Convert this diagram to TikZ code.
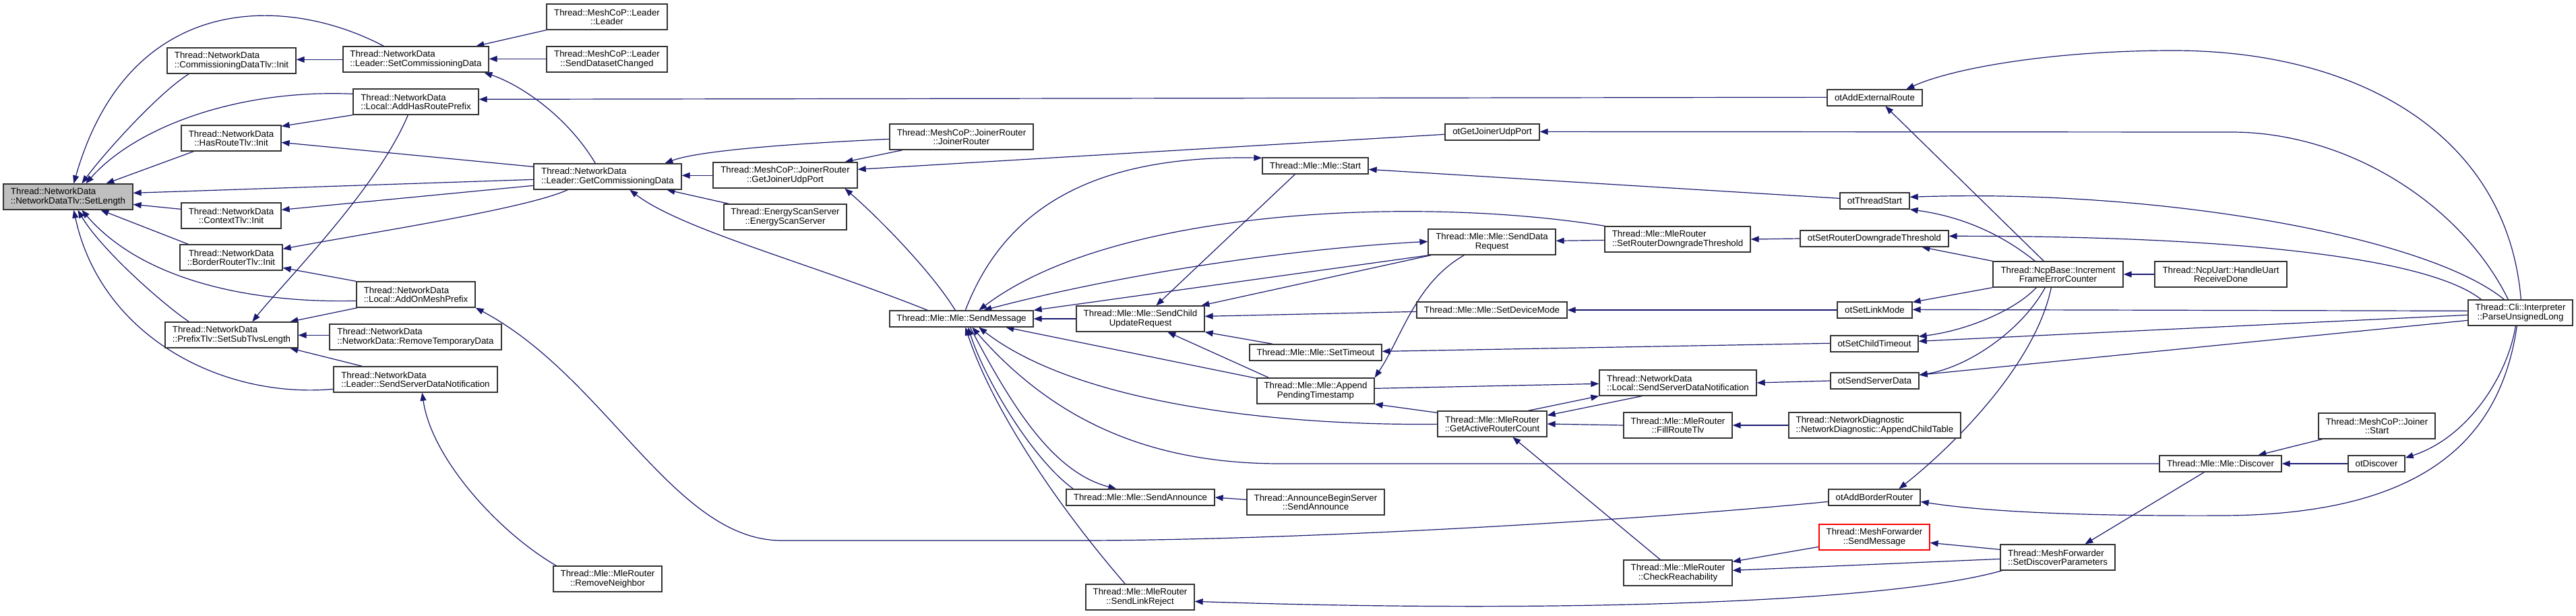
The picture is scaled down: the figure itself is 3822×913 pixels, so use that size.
\documentclass[tikz,border=0pt]{standalone}
\usepackage{fontspec}
\setmainfont{Liberation Sans}
\usetikzlibrary{arrows.meta}
\definecolor{edgecol}{HTML}{191970}
\pgfdeclarelayer{background}
\pgfsetlayers{background,main}
\begin{document}
\begin{tikzpicture}[x=1pt,y=-1pt,
 box/.style={draw=black!80, line width=1.3pt, fill=white, inner sep=0pt, font=\fontsize{13.3pt}{13.5pt}\selectfont, text=black},
 two/.style={minimum height=38pt},
 one/.style={minimum height=24pt},
 conn/.style={draw=edgecol, line width=1.2pt, -{Triangle[length=12pt,width=9pt]}},
 conn2/.style={draw=edgecol, line width=1.2pt, {Triangle[length=12pt,width=9pt]}-{Triangle[length=12pt,width=9pt]}}]
\useasboundingbox (0,0) rectangle (3822,913);
% nodes
\node[box,two,minimum width=192pt,align=left,fill=black!25] (setlen) at (101,292) {Thread::NetworkData\\::NetworkDataTlv::SetLength};
\node[box,two,minimum width=191pt,align=left] (cdtinit) at (343.5,90) {Thread::NetworkData\\::CommissioningDataTlv::Init};
\node[box,two,minimum width=216pt,align=left] (setcd) at (617,88) {Thread::NetworkData\\::Leader::SetCommissioningData};
\node[box,two,minimum width=186pt,align=left] (addhrp) at (617,151) {Thread::NetworkData\\::Local::AddHasRoutePrefix};
\node[box,two,minimum width=148pt,align=center] (hrtinit) at (343,205) {Thread::NetworkData\\::HasRouteTlv::Init};
\node[box,two,minimum width=148pt,align=center] (ctxinit) at (343,320) {Thread::NetworkData\\::ContextTlv::Init};
\node[box,two,minimum width=152pt,align=center] (brtinit) at (343,382) {Thread::NetworkData\\::BorderRouterTlv::Init};
\node[box,two,minimum width=176pt,align=left] (addomp) at (617,437) {Thread::NetworkData\\::Local::AddOnMeshPrefix};
\node[box,two,minimum width=197pt,align=left] (prefix) at (343.5,497) {Thread::NetworkData\\::PrefixTlv::SetSubTlvsLength};
\node[box,two,minimum width=255pt,align=left] (remtmp) at (616.5,500) {Thread::NetworkData\\::NetworkData::RemoveTemporaryData};
\node[box,two,minimum width=243pt,align=left] (lssdn) at (616.5,563) {Thread::NetworkData\\::Leader::SendServerDataNotification};
\node[box,two,minimum width=179pt,align=center] (mcleader) at (900.5,25) {Thread::MeshCoP::Leader\\::Leader};
\node[box,two,minimum width=179pt,align=center] (sdc) at (900.5,88) {Thread::MeshCoP::Leader\\::SendDatasetChanged};
\node[box,two,minimum width=219pt,align=left] (getcd) at (901.5,262) {Thread::NetworkData\\::Leader::GetCommissioningData};
\node[box,two,minimum width=214pt,align=center] (gjup) at (1165,260) {Thread::MeshCoP::JoinerRouter\\::GetJoinerUdpPort};
\node[box,two,minimum width=213pt,align=center] (jr) at (1426.5,203) {Thread::MeshCoP::JoinerRouter\\::JoinerRouter};
\node[box,two,minimum width=182pt,align=center] (ess) at (1165,322) {Thread::EnergyScanServer\\::EnergyScanServer};
\node[box,one,minimum width=213pt] (sendmsg) at (1426.5,473) {Thread::Mle::Mle::SendMessage};
\node[box,two,minimum width=161pt,align=center] (remnb) at (901.5,859) {Thread::Mle::MleRouter\\::RemoveNeighbor};
\node[box,one,minimum width=140pt] (otgjup) at (2214,196) {otGetJoinerUdpPort};
\node[box,one,minimum width=157pt] (start) at (1951.5,246) {Thread::Mle::Mle::Start};
\node[box,two,minimum width=189pt,align=center] (sdr) at (2213.5,359) {Thread::Mle::Mle::SendData\\Request};
\node[box,two,minimum width=216pt,align=left] (srdt) at (2489,355) {Thread::Mle::MleRouter\\::SetRouterDowngradeThreshold};
\node[box,one,minimum width=223pt] (setdm) at (2213.5,460) {Thread::Mle::Mle::SetDeviceMode};
\node[box,two,minimum width=190pt,align=center] (scur) at (1692,473) {Thread::Mle::Mle::SendChild\\UpdateRequest};
\node[box,one,minimum width=196pt] (settimeout) at (1952,523) {Thread::Mle::Mle::SetTimeout};
\node[box,two,minimum width=174pt,align=center] (apt) at (1952,580) {Thread::Mle::Mle::Append\\PendingTimestamp};
\node[box,two,minimum width=162pt,align=center] (garc) at (2214,629) {Thread::Mle::MleRouter\\::GetActiveRouterCount};
\node[box,one,minimum width=220pt] (sendann) at (1692,738) {Thread::Mle::Mle::SendAnnounce};
\node[box,two,minimum width=204pt,align=center] (abs) at (1952,745) {Thread::AnnounceBeginServer\\::SendAnnounce};
\node[box,two,minimum width=161pt,align=center] (slr) at (1691.5,886) {Thread::Mle::MleRouter\\::SendLinkReject};
\node[box,one,minimum width=141pt] (otaer) at (2781.5,145) {otAddExternalRoute};
\node[box,one,minimum width=103pt] (otts) at (2781.5,298) {otThreadStart};
\node[box,one,minimum width=220pt] (otsrdt) at (2781,354) {otSetRouterDowngradeThreshold};
\node[box,two,minimum width=193pt,align=center] (ifec) at (3053.5,407) {Thread::NcpBase::Increment\\FrameErrorCounter};
\node[box,one,minimum width=111pt] (otslm) at (2781.5,460) {otSetLinkMode};
\node[box,one,minimum width=130pt] (otsct) at (2781,510) {otSetChildTimeout};
\node[box,one,minimum width=131pt] (otssd) at (2781.5,565) {otSendServerData};
\node[box,two,minimum width=233pt,align=left] (locssdn) at (2489.5,568) {Thread::NetworkData\\::Local::SendServerDataNotification};
\node[box,two,minimum width=161pt,align=center] (frt) at (2489.5,631) {Thread::Mle::MleRouter\\::FillRouteTlv};
\node[box,two,minimum width=255pt,align=left] (act) at (2781.5,631) {Thread::NetworkDiagnostic\\::NetworkDiagnostic::AppendChildTable};
\node[box,one,minimum width=136pt] (otabr) at (2781,738) {otAddBorderRouter};
\node[box,two,minimum width=164pt,align=center,draw=red] (mfsm) at (2781,797) {Thread::MeshForwarder\\::SendMessage};
\node[box,two,minimum width=170pt,align=left] (sdp) at (3053,827) {Thread::MeshForwarder\\::SetDiscoverParameters};
\node[box,two,minimum width=161pt,align=center] (cr) at (2489.5,850) {Thread::Mle::MleRouter\\::CheckReachability};
\node[box,two,minimum width=196pt,align=center] (hurd) at (3295,407) {Thread::NcpUart::HandleUart\\ReceiveDone};
\node[box,two,minimum width=155pt,align=center] (interp) at (3739.5,464) {Thread::Cli::Interpreter\\::ParseUnsignedLong};
\node[box,two,minimum width=173pt,align=center] (jstart) at (3526.5,632) {Thread::MeshCoP::Joiner\\::Start};
\node[box,one,minimum width=181pt] (discover) at (3294.5,688) {Thread::Mle::Mle::Discover};
\node[box,one,minimum width=84pt] (otdisc) at (3526,688) {otDiscover};
% edges
\begin{pgfonlayer}{background}
\fill[white] (0,0) rectangle (3822,913);
\draw[conn] ([xshift=61pt]setcd.north west) .. controls (420,-10) and (190,-10) .. ([xshift=105pt]setlen.north west);
\draw[conn] ([xshift=33pt]cdtinit.south west) .. controls (235,138) and (155,227) .. ([xshift=117pt]setlen.north west);
\draw[conn] ([yshift=-8pt]addhrp.north west) .. controls (350,132) and (200,190) .. ([xshift=123pt]setlen.north west);
\draw[conn] ([xshift=19pt]hrtinit.south west) -- ([xshift=153pt]setlen.north west);
\draw[conn] ([yshift=-24pt]getcd.north west) -- ([yshift=-14pt]setlen.north east);
\draw[conn] ([yshift=-10pt]ctxinit.north west) -- ([yshift=-31pt]setlen.north east);
\draw[conn] ([xshift=13pt]brtinit.north west) -- ([xshift=145pt]setlen.south west);
\draw[conn] ([yshift=-29pt]addomp.north west) .. controls (380,450) and (214,419) .. ([xshift=117pt]setlen.south west);
\draw[conn] ([xshift=36pt]prefix.north west) .. controls (240,450) and (150,370) .. ([xshift=111pt]setlen.south west);
\draw[conn] ([yshift=-34pt]lssdn.north west) .. controls (330,592) and (150,500) .. ([xshift=105pt]setlen.south west);
\draw[conn] ([yshift=-20pt]setcd.north west) -- ([yshift=-18pt]cdtinit.north east);
\draw[conn] (mcleader.south west) -- ([xshift=198pt]setcd.north west);
\draw[conn] ([yshift=-19pt]sdc.north west) -- ([yshift=-19pt]setcd.north east);
\draw[conn] ([xshift=92pt]getcd.north west) .. controls (840,170) and (770,125) .. ([xshift=210pt]setcd.south west);
\draw[conn] ([yshift=-12pt]otaer.north west) -- ([yshift=-16pt]addhrp.north east);
\draw[conn] (addhrp.south west) -- ([yshift=-2pt]hrtinit.north east);
\draw[conn] ([yshift=-5pt]getcd.north west) -- ([yshift=-26pt]hrtinit.north east);
\draw[conn] ([yshift=-33pt]getcd.north west) -- ([yshift=-11pt]ctxinit.north east);
\draw[conn] ([xshift=51pt]getcd.south west) .. controls (780,310) and (550,345) .. ([yshift=-7pt]brtinit.north east);
\draw[conn] (addomp.north west) -- ([yshift=-35pt]brtinit.north east);
\draw[conn] ([xshift=82pt]addhrp.south west) .. controls (560,280) and (420,420) .. ([xshift=130pt]prefix.north west);
\draw[conn] ([xshift=2pt]addomp.south west) -- ([xshift=186pt]prefix.north west);
\draw[conn] ([yshift=-17pt]remtmp.north west) -- ([yshift=-20pt]prefix.north east);
\draw[conn] ([xshift=43pt]lssdn.north west) -- ([xshift=186pt]prefix.south west);
\draw[conn] ([yshift=-19pt]otabr.north west) .. controls (2400,775) and (1900,802) .. (1600,802) -- (1160,802) .. controls (1000,802) and (900,560) .. (addomp.south east);
\draw[conn] ([xshift=5pt]remnb.north west) .. controls (740,790) and (640,680) .. ([xshift=132pt]lssdn.south west);
\draw[conn] ([yshift=-23pt]jr.north west) .. controls (1200,212) and (1040,222) .. ([xshift=195pt]getcd.north west);
\draw[conn] ([yshift=-20pt]gjup.north west) -- ([yshift=-18pt]getcd.north east);
\draw[conn] ([xshift=8pt]ess.north west) -- ([xshift=198pt]getcd.south west);
\draw[conn] ([xshift=57pt]sendmsg.north west) .. controls (1200,390) and (1010,340) .. ([xshift=143pt]getcd.south west);
\draw[conn] ([xshift=20pt]jr.south west) -- ([xshift=196pt]gjup.north west);
\draw[conn] ([yshift=-16pt]otgjup.north west) -- ([yshift=-11pt]gjup.north east);
\draw[conn] ([xshift=98pt]sendmsg.north west) .. controls (1380,400) and (1300,320) .. ([xshift=196pt]gjup.south west);
\draw[conn] ([xshift=1pt]srdt.north west) .. controls (2100,290) and (1650,310) .. ([xshift=133pt]sendmsg.north west);
\draw[conn] ([xshift=2pt]sdr.south west) -- (sendmsg.north east);
\draw[conn2] ([xshift=140pt]sendmsg.north west) .. controls (1650,410) and (1900,370) .. ([yshift=-19pt]sdr.north west);
\draw[conn] (scur.west) -- (sendmsg.east);
\draw[conn] ([yshift=-1pt]apt.north west) -- ([xshift=173pt]sendmsg.south west);
\draw[conn] ([yshift=-20pt]garc.north west) .. controls (1900,632) and (1600,600) .. ([xshift=133pt]sendmsg.south west);
\draw[conn] (discover.west) -- (1900,688) .. controls (1700,688) and (1560,620) .. ([xshift=123pt]sendmsg.south west);
\draw[conn] ([xshift=11pt]sendann.north west) .. controls (1530,680) and (1460,560) .. ([xshift=117pt]sendmsg.south west);
\draw[conn] ([xshift=120pt]sendmsg.south west) .. controls (1500,600) and (1560,700) .. ([xshift=75pt]sendann.north west);
\draw[conn] ([xshift=59pt]slr.north west) .. controls (1560,740) and (1470,600) .. ([xshift=113pt]sendmsg.south west);
\draw[conn] ([xshift=113pt]sendmsg.north west) .. controls (1490,310) and (1620,230) .. ([yshift=-1pt]start.north west);
\draw[conn] ([xshift=49pt]start.south west) -- ([xshift=119pt]scur.north west);
\draw[conn] ([xshift=5pt]sdr.south west) -- ([xshift=186pt]scur.north west);
\draw[conn] ([yshift=-15pt]setdm.north west) -- ([yshift=-16pt]scur.north east);
\draw[conn] ([xshift=35pt]settimeout.north west) -- (scur.south east);
\draw[conn] ([xshift=18pt]apt.north west) -- ([xshift=136pt]scur.south west);
\draw[conn] ([yshift=-9pt]otts.north west) -- ([yshift=-18pt]start.north east);
\draw[conn] ([yshift=-21pt]srdt.north west) -- ([yshift=-18pt]sdr.north east);
\draw[conn] ([xshift=54pt]sdr.south west) .. controls (2100,420) and (2080,500) .. (apt.north east);
\draw[conn] ([yshift=-3pt]garc.north west) -- (apt.south east);
\draw[conn] ([yshift=-12pt]otsct.north west) -- ([yshift=-11pt]settimeout.north east);
\draw[conn] (otslm.west) -- (setdm.east);
\draw[conn] (otsrdt.west) -- (srdt.east);
\draw[conn] ([xshift=64pt]locssdn.south west) -- ([yshift=-7pt]garc.north east);
\draw[conn] (frt.west) -- (garc.east);
\draw[conn] ([xshift=55pt]cr.north west) -- ([xshift=112pt]garc.south west);
\draw[conn] ([xshift=135pt]garc.north west) -- (locssdn.south west);
\draw[conn] ([yshift=-16pt]apt.north east) -- ([yshift=-21pt]locssdn.north west);
\draw[conn] (otssd.west) -- (locssdn.east);
\draw[conn] (act.west) -- (frt.east);
\draw[conn] ([yshift=-16pt]abs.north west) -- (sendann.east);
\draw[conn] ([xshift=3pt]sdp.south west) .. controls (2800,895) and (2300,910) .. ([yshift=-26pt]slr.north east);
\draw[conn] ([yshift=-8pt]sdp.north west) -- ([yshift=-28pt]mfsm.north east);
\draw[conn] ([yshift=-22pt]sdp.north west) -- ([yshift=-16pt]cr.north east);
\draw[conn] ([yshift=-34pt]mfsm.north west) -- ([yshift=-3pt]cr.north east);
\draw[conn] ([xshift=67pt]discover.south west) -- ([xshift=126pt]sdp.north west);
\draw[conn] ([xshift=6pt]jstart.south west) -- ([xshift=147pt]discover.north west);
\draw[conn] (otdisc.west) -- (discover.east);
\draw[conn] ([xshift=71pt]interp.south west) .. controls (3720,560) and (3660,650) .. ([yshift=-4pt]otdisc.north east);
\draw[conn] ([xshift=73pt]interp.south west) .. controls (3710,650) and (3600,763) .. (3300,765) .. controls (3100,766) and (2950,760) .. ([yshift=-19pt]otabr.north east);
\draw[conn] ([xshift=87pt]ifec.south west) .. controls (3020,540) and (2900,660) .. ([xshift=105pt]otabr.north west);
\draw[conn] ([xshift=79pt]interp.north west) .. controls (3720,200) and (3500,75) .. (3224,75) .. controls (3050,75) and (2900,100) .. ([xshift=118pt]otaer.north west);
\draw[conn] ([xshift=76pt]ifec.north west) -- ([xshift=87pt]otaer.south west);
\draw[conn] ([xshift=60pt]interp.north west) .. controls (3650,300) and (3480,196) .. (3311,196) -- ([yshift=-12pt]otgjup.north east);
\draw[conn] ([xshift=54pt]interp.north west) .. controls (3600,350) and (3200,280) .. ([yshift=-7pt]otts.north east);
\draw[conn] ([xshift=63pt]ifec.north west) .. controls (2960,340) and (2900,320) .. (otts.south east);
\draw[conn] ([xshift=20pt]interp.north west) .. controls (3600,380) and (3300,350) .. ([yshift=-9pt]otsrdt.north east);
\draw[conn] (ifec.north west) -- ([xshift=181pt]otsrdt.south west);
\draw[conn] ([yshift=-17pt]interp.north west) -- ([yshift=-12pt]otslm.north east);
\draw[conn] (ifec.south west) -- ([yshift=-1pt]otslm.north east);
\draw[conn] ([yshift=-23pt]interp.north west) -- ([yshift=-9pt]otsct.north east);
\draw[conn] ([xshift=65pt]ifec.south west) .. controls (2990,460) and (2920,490) .. ([yshift=-2pt]otsct.north east);
\draw[conn] ([yshift=-31pt]interp.north west) -- ([yshift=-4pt]otssd.north east);
\draw[conn] ([xshift=78pt]ifec.south west) .. controls (3000,490) and (2920,545) .. ([yshift=-4pt]otssd.north east);
\draw[conn] (hurd.west) -- (ifec.east);
\end{pgfonlayer}
\end{tikzpicture}
\end{document}
